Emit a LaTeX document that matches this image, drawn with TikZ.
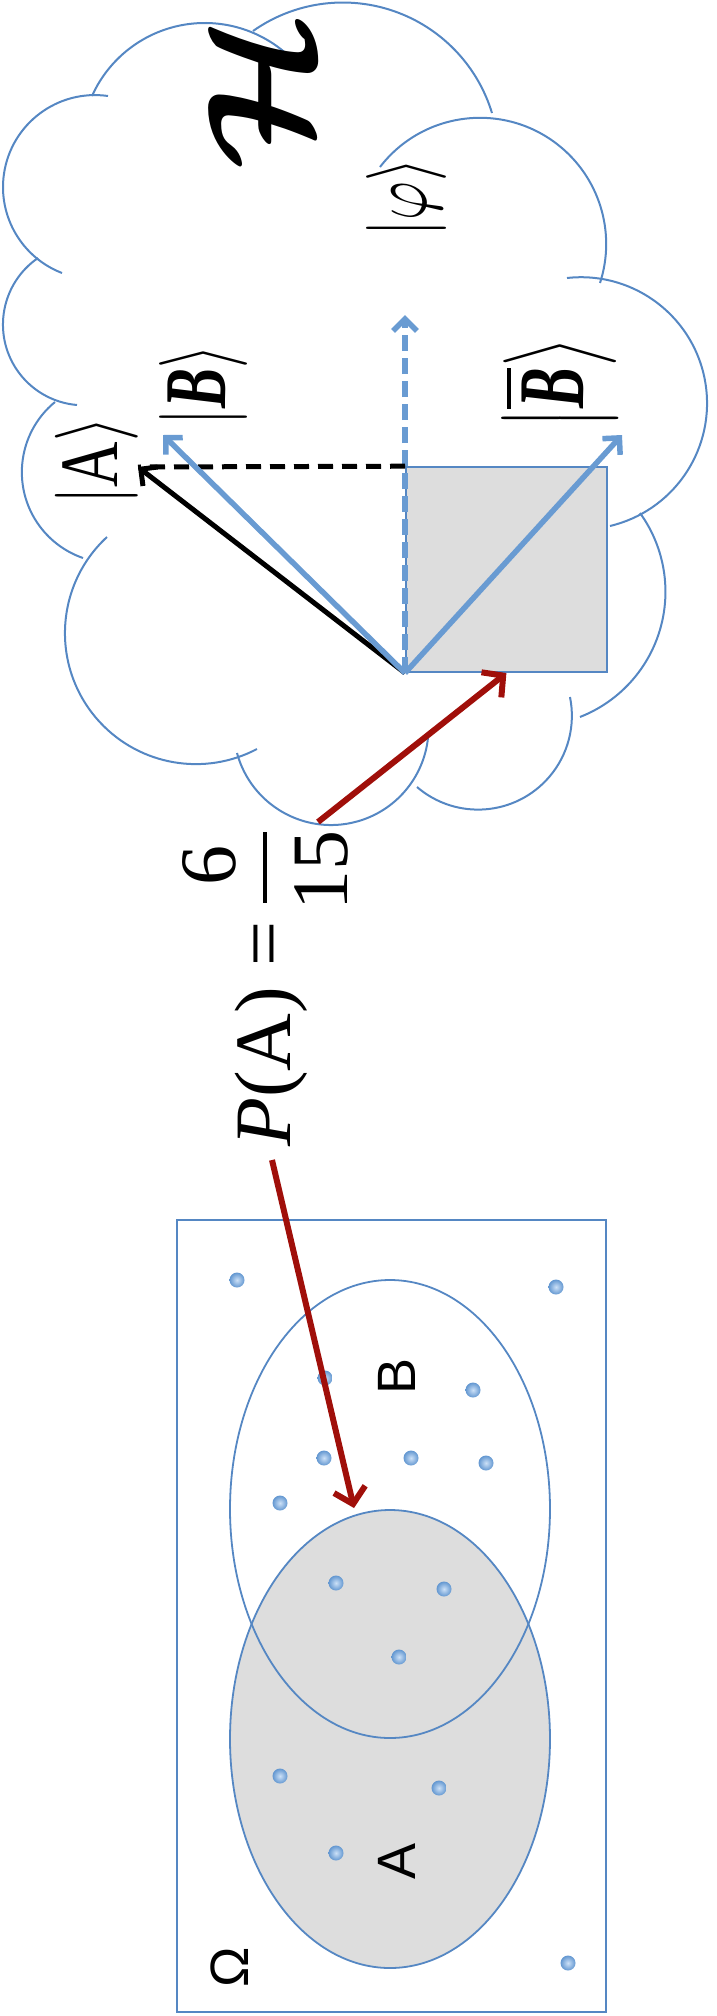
\documentclass[tikz,border=0pt]{standalone}
\usepackage{fontspec}
\setmainfont{Liberation Serif}
\newfontfamily\lsans{Liberation Sans}
\usepackage{amsmath}
\usepackage{graphicx}
\usetikzlibrary{arrows.meta,shapes.geometric}
\definecolor{cloudblue}{RGB}{85,135,195}
\definecolor{vecblue}{RGB}{105,155,210}
\definecolor{darkred}{RGB}{160,15,10}
\definecolor{boxgray}{RGB}{221,221,221}
\definecolor{dotblue}{RGB}{110,168,232}
\tikzset{
  cloudline/.style={draw=cloudblue, line width=2pt},
  thinblue/.style={draw=cloudblue, line width=1.8pt},
  bluevec/.style={draw=vecblue, line width=5.5pt, -{Straight Barb[length=12pt,width=24pt]}},
  blackvec/.style={draw=black, line width=5pt, -{Straight Barb[length=12pt,width=24pt]}},
  bluedash/.style={draw=vecblue, line width=5.5pt, dash pattern=on 16pt off 7pt, -{Straight Barb[length=12pt,width=24pt]}},
  blackdash/.style={draw=black, line width=5pt, dash pattern=on 15pt off 9pt},
  redarrow/.style={draw=darkred, line width=6pt, -{Straight Barb[length=15pt,width=32pt]}},
  lbl/.style={rotate=90, inner sep=0pt},
  sanslbl/.style={rotate=90, inner sep=0pt, font=\lsans\fontsize{54}{54}\selectfont},
  bigtxt/.style={rotate=90, inner sep=0pt, font=\fontsize{80}{80}\selectfont},
  dot/.style={inner color=dotblue!35!white, outer color=dotblue!90!black},
}
% circular arc through three points (start, any point on the arc, end)
\newcommand{\threearc}[6]{%
 \pgfmathsetmacro\tAx{#1/100}\pgfmathsetmacro\tAy{#2/100}%
 \pgfmathsetmacro\tBx{#3/100}\pgfmathsetmacro\tBy{#4/100}%
 \pgfmathsetmacro\tCx{#5/100}\pgfmathsetmacro\tCy{#6/100}%
 \pgfmathsetmacro\tD{2*(\tAx*(\tBy-\tCy)+\tBx*(\tCy-\tAy)+\tCx*(\tAy-\tBy))}%
 \pgfmathsetmacro\tUx{((\tAx*\tAx+\tAy*\tAy)*(\tBy-\tCy)+(\tBx*\tBx+\tBy*\tBy)*(\tCy-\tAy)+(\tCx*\tCx+\tCy*\tCy)*(\tAy-\tBy))/\tD}%
 \pgfmathsetmacro\tUy{((\tAx*\tAx+\tAy*\tAy)*(\tCx-\tBx)+(\tBx*\tBx+\tBy*\tBy)*(\tAx-\tCx)+(\tCx*\tCx+\tCy*\tCy)*(\tBx-\tAx))/\tD}%
 \pgfmathsetmacro\tR{100*sqrt((\tAx-\tUx)^2+(\tAy-\tUy)^2)}%
 \pgfmathsetmacro\tAngA{atan2(\tAy-\tUy,\tAx-\tUx)}%
 \pgfmathsetmacro\tAngB{atan2(\tBy-\tUy,\tBx-\tUx)}%
 \pgfmathsetmacro\tAngC{atan2(\tCy-\tUy,\tCx-\tUx)}%
 \pgfmathsetmacro\tE{Mod(\tAngC-\tAngA,360)}%
 \pgfmathsetmacro\tM{Mod(\tAngB-\tAngA,360)}%
 \pgfmathsetmacro\tEnd{\tM<\tE ? \tAngA+\tE : \tAngA+\tE-360}%
 \draw[cloudline] (#1,#2) arc[start angle=\tAngA, end angle=\tEnd, radius=\tR];%
}
\begin{document}
\begin{tikzpicture}[x=1pt,y=-1pt]
\useasboundingbox (0,0) rectangle (717,2016);
% ---------------- cloud (Hilbert space) ----------------
\threearc{108}{96}{3}{187}{62}{273}
\threearc{92}{96}{203}{23}{293}{60}
\threearc{253}{31}{380}{7}{492}{113}
\threearc{380}{167}{540}{133}{600}{283}
\threearc{567}{278}{707}{407}{610}{526}
\threearc{640}{513}{665}{603}{580}{717}
\threearc{417}{787}{500}{807}{570}{697}
\threearc{237}{753}{333}{825}{428}{738}
\threearc{107}{537}{65}{630}{257}{749}
\threearc{55}{402}{22}{467}{83}{558}
\threearc{38}{258}{3}{327}{77}{405}

\coordinate (O) at (405,673);
\coordinate (Atip) at (138,467);
\coordinate (Btip) at (163,435);
\coordinate (Bbtip) at (622,435);
\coordinate (Ptip) at (405,315);

\node[thinblue, fill=boxgray, minimum width=201pt, minimum height=205pt, inner sep=0pt, anchor=south west] (box) at (O) {};

\draw[bluedash] (O) -- (Ptip);
\draw[blackdash] (box.north west) -- (Atip);
\draw[blackvec] (O) -- (Atip);
\draw[bluevec] (O) -- (Btip);
\draw[bluevec] (O) -- (Bbtip);

\node[lbl] (kA) at (97,461) {\scalebox{6.3}[8.3]{$|\text{A}\rangle$}};
\node[lbl] (kB) at (203,385) {\scalebox{6.0}[8.8]{$|\text{\bfseries\itshape B}\rangle$}};
\node[lbl] (kBb) at (560,384) {\scalebox{6.1}[9.4]{$\bigl|\overline{\text{\bfseries\itshape B}}\bigr\rangle$}};
\node[lbl] (kphi) at (406,198) {\scalebox{5.9}[8]{$|\varphi\rangle$}};
\node[lbl] (H) at (260,92) {\scalebox{16}[15]{$\boldsymbol{\mathcal{H}}$}};

% ---------------- Venn diagram ----------------
\node[thinblue, minimum width=429pt, minimum height=792pt, inner sep=0pt] (omega) at (391.5,1616) {};
\node[ellipse, fill=boxgray, minimum width=320pt, minimum height=458pt, inner sep=0pt] (ellA) at (390,1739) {};
\node[ellipse, thinblue, minimum width=320pt, minimum height=458pt, inner sep=0pt] (ellB) at (390,1509) {};
\node[ellipse, thinblue, minimum width=320pt, minimum height=458pt, inner sep=0pt] at (ellA) {};

\foreach \x/\y in {237/1280, 556/1287, 325/1378, 473/1390, 324/1458, 411/1458, 486/1463, 280/1503, 336/1583, 444/1589, 399/1657, 280/1776, 439/1788, 336/1853, 568/1963}
  \shade[dot] (\x,\y) circle[radius=7.5pt];

\node[sanslbl] (lO) at (230,1967) {Ω};
\node[sanslbl] (lA) at (397,1861) {A};
\node[sanslbl] (lB) at (397,1376) {B};

% ---------------- probability ----------------
\node[bigtxt, anchor=base west] (PA) at (290,1147) {\textit{P}(A) =};
\node[bigtxt, anchor=base] (num) at (235,865) {6};
\node[bigtxt, anchor=base] (den) at (347,870) {15};
\coordinate (barT) at (265,832);
\coordinate (barB) at (265,903);
\draw[line width=4pt] (barT) -- (barB);

\coordinate (r1s) at (318,822);
\coordinate (r2s) at (272,1160);
\coordinate (r2e) at (354,1508);
\draw[redarrow] (r1s) -- (box.south);
\draw[redarrow] (r2s) -- (r2e);
\end{tikzpicture}
\end{document}
